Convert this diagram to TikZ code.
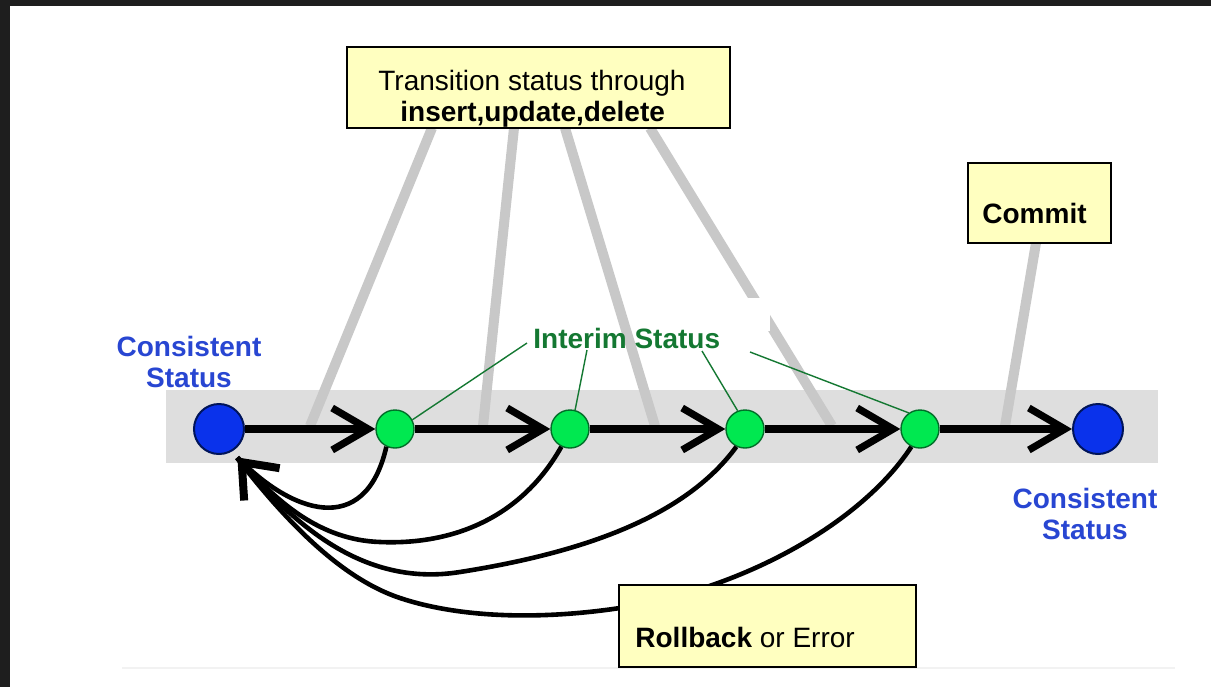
\documentclass[tikz,border=0pt]{standalone}
\usepackage{fontspec}
\setmainfont{Liberation Sans}
\usetikzlibrary{arrows.meta}

\definecolor{frameGray}{RGB}{30,30,30}
\definecolor{bandGray}{RGB}{222,222,222}
\definecolor{poleGray}{RGB}{200,200,200}
\definecolor{noteYellow}{RGB}{255,255,192}
\definecolor{stateBlue}{RGB}{10,50,235}
\definecolor{stateBlueDark}{RGB}{0,20,90}
\definecolor{interimGreen}{RGB}{0,232,80}
\definecolor{interimGreenDark}{RGB}{0,110,40}
\definecolor{labelBlue}{RGB}{40,70,210}
\definecolor{labelGreen}{RGB}{20,120,50}

\tikzset{
  note/.style={draw=black, line width=1pt, fill=noteYellow, inner sep=0pt},
  consistent/.style={circle, draw=stateBlueDark, line width=1pt, fill=stateBlue, minimum size=25pt, inner sep=0pt},
  interim/.style={circle, draw=interimGreenDark, line width=0.7pt, fill=interimGreen, minimum size=19pt, inner sep=0pt},
  flow/.style={line width=3.6pt, -{Straight Barb[length=18pt,width=21pt]}},
  undo/.style={line width=2.3pt, shorten >=4pt},
  undotip/.style={undo, -{Straight Barb[length=15pt,width=24pt,line width=4pt]}},
  pole/.style={poleGray, line width=5pt},
  callout/.style={labelGreen, line width=0.7pt},
  txt/.style={font=\fontsize{14}{15.5}\selectfont, inner sep=0pt},
}

\begin{document}
\begin{tikzpicture}[x=0.5pt,y=-0.5pt]
  % frame
  \fill[frameGray] (0,0) rectangle (1211,687);
  \fill[white] (10,6) rectangle (1211,687);
  \draw[black!5, line width=1pt] (122,668) -- (1175,668);

  % band
  \fill[bandGray] (166,390) rectangle (1158,463);

  % poles from the notes
  \coordinate (p1) at (432,128);  \coordinate (q1) at (310,426);
  \coordinate (p2) at (514,128);  \coordinate (q2) at (483,426);
  \coordinate (p3) at (565,128);  \coordinate (q3) at (655,426);
  \coordinate (p4) at (650,128);  \coordinate (q4) at (832,426);
  \coordinate (p5) at (1036,243); \coordinate (q5) at (1005,426);
  \draw[pole] (p1) -- (q1);
  \draw[pole] (p2) -- (q2);
  \draw[pole] (p3) -- (q3);
  \draw[pole] (p4) -- (q4);
  \draw[pole] (p5) -- (q5);
  \fill[white] (706,298) rectangle (770,331);

  % states
  \node[consistent] (c1) at (219,429) {};
  \node[interim] (g1) at (395,429) {};
  \node[interim] (g2) at (570,429) {};
  \node[interim] (g3) at (745,429) {};
  \node[interim] (g4) at (920,429) {};
  \node[consistent] (c2) at (1098,429) {};

  \draw[flow] (c1) -- (g1);
  \draw[flow] (g1) -- (g2);
  \draw[flow] (g2) -- (g3);
  \draw[flow] (g3) -- (g4);
  \draw[flow] (g4) -- (c2);

  % interim label
  \node[txt, anchor=base west, text=labelGreen] (interim) at (533,348) {\textbf{Interim Status}};
  \coordinate (i1) at (527,343);
  \coordinate (i2) at (587,350);
  \coordinate (i3) at (702,351);
  \coordinate (i4) at (750,352);
  \draw[callout] (i1) -- (g1.28);
  \draw[callout] (i2) -- (g2.75);
  \draw[callout] (i3) -- (g3.112);
  \draw[callout] (i4) -- (g4.125);

  % consistent labels
  \node[txt, align=center, text=labelBlue] (left) at (189,362) {\textbf{Consistent}\\\textbf{Status}};
  \node[txt, align=center, text=labelBlue] (right) at (1085,514) {\textbf{Consistent}\\\textbf{Status}};

  % rollback paths
  \draw[undo] (g1.-116) .. controls (365,540) and (290,512) .. (c1.-60);
  \draw[undotip] (g2.-116) .. controls (520,520) and (450,545) .. (380,542)
    .. controls (320,540) and (278,502) .. (c1.-60);
  \draw[undo] (g3.-116) .. controls (690,510) and (600,550) .. (460,572)
    .. controls (360,588) and (290,520) .. (c1.-60);
  \draw[undo] (g4.-116) .. controls (860,525) and (740,590) .. (620,608)
    .. controls (540,620) and (460,618) .. (400,598)
    .. controls (340,578) and (285,520) .. (c1.-60);

  % notes
  \node[note, minimum width=191.5pt, minimum height=40.5pt] (trans) at (538.5,87.5) {};
  \node[txt, anchor=base west] (transtop) at (378,90) {Transition status through};
  \node[txt, anchor=base west] (transops) at (400,121) {\textbf{insert,update,delete}};

  \node[note, minimum width=71.5pt, minimum height=40pt] (commit) at (1039.5,203) {};
  \node[txt, anchor=base west] (committxt) at (982,223) {\textbf{Commit}};

  \node[note, minimum width=148.5pt, minimum height=41pt] (rollback) at (767.5,626) {};
  \node[txt, anchor=base west] (rollbacktxt) at (635,647) {\textbf{Rollback} or Error};
\end{tikzpicture}
\end{document}
